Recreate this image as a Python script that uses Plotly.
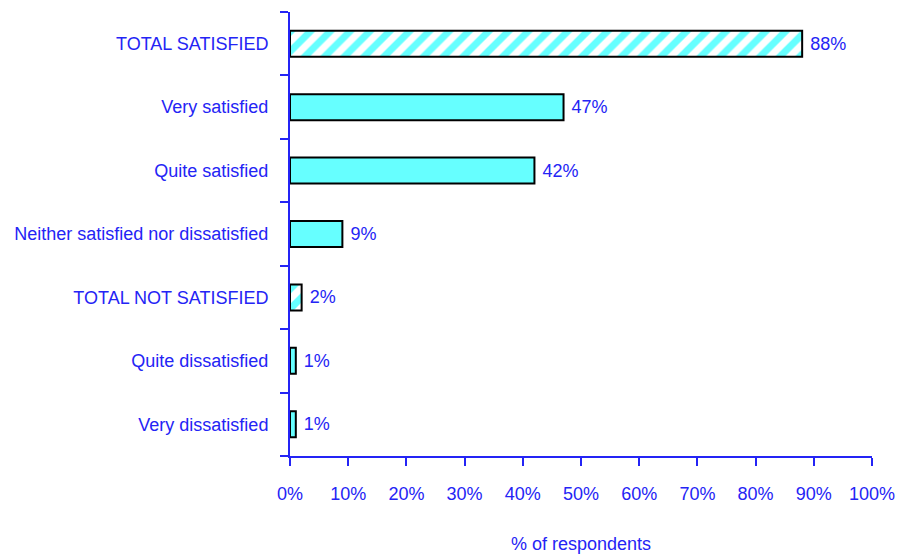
import plotly.graph_objects as go

categories = ["TOTAL SATISFIED", "Very satisfied", "Quite satisfied",
              "Neither satisfied nor dissatisfied", "TOTAL NOT SATISFIED",
              "Quite dissatisfied", "Very dissatisfied"]
values = [88, 47, 42, 9, 2, 1, 1]
is_total = [True, False, False, False, True, False, False]
x_ticks = [0, 10, 20, 30, 40, 50, 60, 70, 80, 90, 100]
x_tick_labels = [f"{t}%" for t in x_ticks]

BLUE = "#2424F5"
CYAN = "#66FFFF"
FONT = "Liberation Sans Narrow, Arial Narrow, Liberation Sans, Arial, sans-serif"
FS = 18

tot_cats = [c for c, t in zip(categories, is_total) if t]
tot_vals = [v for v, t in zip(values, is_total) if t]
sub_cats = [c for c, t in zip(categories, is_total) if not t]
sub_vals = [v for v, t in zip(values, is_total) if not t]

fig = go.Figure()
fig.add_trace(go.Bar(
    y=sub_cats,
    x=sub_vals,
    orientation="h",
    width=0.41,
    marker=dict(color=CYAN, line=dict(color="black", width=2)),
    text=[f"\u00a0{v}%" for v in sub_vals],
    textposition="outside",
    textfont=dict(color=BLUE, size=FS, family=FONT),
    cliponaxis=False,
    hoverinfo="skip",
))
fig.add_trace(go.Bar(
    y=tot_cats,
    x=tot_vals,
    orientation="h",
    width=0.41,
    marker=dict(
        color=CYAN,
        line=dict(color="black", width=2),
        pattern=dict(shape="/", fgcolor=CYAN, bgcolor="white",
                     fillmode="replace", size=14, solidity=0.5),
    ),
    text=[f"\u00a0{v}%" for v in tot_vals],
    textposition="outside",
    textfont=dict(color=BLUE, size=FS, family=FONT),
    cliponaxis=False,
    hoverinfo="skip",
))

fig.update_layout(
    width=899, height=555,
    margin=dict(l=290, r=27, t=12, b=99),
    paper_bgcolor="white",
    plot_bgcolor="white",
    showlegend=False,
    barmode="overlay",
    font=dict(family=FONT, color=BLUE, size=FS),
)
fig.update_xaxes(
    range=[0, 100],
    tickvals=x_ticks,
    ticktext=x_tick_labels,
    showgrid=False,
    zeroline=False,
    showline=True,
    linecolor=BLUE,
    linewidth=2,
    ticks="outside",
    ticklen=8,
    tickcolor=BLUE,
    tickwidth=1.5,
    ticklabelstandoff=12,
    tickfont=dict(size=FS, color=BLUE, family=FONT),
    title=dict(text="% of respondents", font=dict(size=FS, color=BLUE, family=FONT), standoff=35),
    automargin=False,
)
fig.update_yaxes(
    categoryorder="array",
    categoryarray=categories[::-1],
    autorange=False,
    range=[-0.5, 6.5],
    showgrid=False,
    zeroline=False,
    showline=True,
    linecolor=BLUE,
    linewidth=2,
    ticks="outside",
    tickson="boundaries",
    ticklen=8,
    tickcolor=BLUE,
    tickwidth=1.5,
    ticklabelstandoff=16,
    tickfont=dict(size=FS, color=BLUE, family=FONT),
    automargin=False,
)

# remove the default 8px page margin so the 899x555 figure fills the window
fig.write_html(
    "out.html",
    config={"displayModeBar": False},
    post_script="document.documentElement.style.margin='0';document.body.style.margin='0';document.body.style.overflow='hidden';",
)
